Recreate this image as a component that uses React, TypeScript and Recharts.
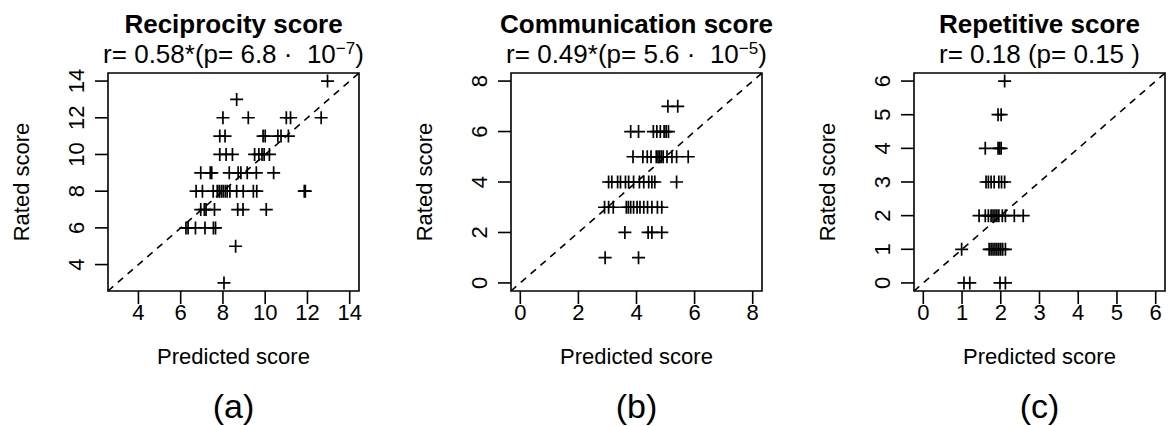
import React from 'react'
import { ScatterChart, Scatter, XAxis, YAxis, ReferenceLine, ReferenceArea } from 'recharts'

const FONT = '"Liberation Sans", Arial, Helvetica, sans-serif'

// (a) Reciprocity score, one row per rated value
const recipPredicted = [
  12.95,
  8.65,
  8.0, 9.2, 11.0, 11.2, 12.65,
  7.85, 8.1, 9.9, 10.0, 10.6, 10.75, 11.1,
  7.85, 8.15, 8.45, 9.5, 9.7, 9.85, 9.95, 10.2,
  6.95, 7.4, 7.47, 8.3, 8.72, 8.85, 9.15, 9.58, 10.4,
  6.73, 7.03, 7.54, 7.73, 7.82, 7.92, 8.01, 8.11, 8.2, 8.33, 8.65, 8.96, 9.44, 9.6, 11.85, 11.9,
  6.95, 7.12, 7.2, 7.6, 8.7, 8.95, 10.05,
  6.25, 6.35, 6.7, 7.15, 7.55, 7.65,
  8.6,
  8.05,
]
const recipRated = [
  14,
  13,
  12, 12, 12, 12, 12,
  11, 11, 11, 11, 11, 11, 11,
  10, 10, 10, 10, 10, 10, 10, 10,
  9, 9, 9, 9, 9, 9, 9, 9, 9,
  8, 8, 8, 8, 8, 8, 8, 8, 8, 8, 8, 8, 8, 8, 8, 8,
  7, 7, 7, 7, 7, 7, 7,
  6, 6, 6, 6, 6, 6,
  5,
  3,
]
const recipTicks = [4, 6, 8, 10, 12, 14]
const recipDomain: [number, number] = [2.56, 14.44]

// (b) Communication score
const commPredicted = [
  5.08, 5.42,
  3.8, 4.07, 4.58, 4.7, 4.82, 4.95, 5.02, 5.1,
  3.88, 4.22, 4.37, 4.5, 4.68, 4.74, 4.8, 4.86, 4.92, 5.05, 5.22, 5.38, 5.78,
  3.04, 3.15, 3.35, 3.45, 3.62, 3.73, 3.9, 4.1, 4.25, 4.42, 4.53, 4.63, 5.38,
  2.9, 3.04, 3.2, 3.65, 3.72, 3.8, 3.9, 4.02, 4.12, 4.25, 4.38, 4.53, 4.72, 4.87,
  3.6, 4.4, 4.53, 4.87,
  2.92, 4.07,
]
const commRated = [
  7, 7,
  6, 6, 6, 6, 6, 6, 6, 6,
  5, 5, 5, 5, 5, 5, 5, 5, 5, 5, 5, 5, 5,
  4, 4, 4, 4, 4, 4, 4, 4, 4, 4, 4, 4, 4,
  3, 3, 3, 3, 3, 3, 3, 3, 3, 3, 3, 3, 3, 3,
  2, 2, 2, 2,
  1, 1,
]
const commTicks = [0, 2, 4, 6, 8]
const commDomain: [number, number] = [-0.32, 8.32]

// (c) Repetitive score
const repPredicted = [
  2.1,
  1.93, 2.01,
  1.6, 1.93, 1.97, 2.01,
  1.62, 1.68, 1.75, 1.83, 1.95, 2.02, 2.1,
  1.44, 1.6, 1.68, 1.75, 1.8, 1.85, 1.9, 1.95, 2.04, 2.12, 2.35, 2.58,
  0.99, 1.7, 1.75, 1.8, 1.85, 1.9, 1.95, 2.0, 2.05, 2.12,
  1.05, 1.2, 1.98, 2.12,
]
const repRated = [
  6,
  5, 5,
  4, 4, 4, 4,
  3, 3, 3, 3, 3, 3, 3,
  2, 2, 2, 2, 2, 2, 2, 2, 2, 2, 2, 2,
  1, 1, 1, 1, 1, 1, 1, 1, 1, 1,
  0, 0, 0, 0,
]
const repTicks = [0, 1, 2, 3, 4, 5, 6]
const repDomain: [number, number] = [-0.24, 6.24]

const toPoints = (xs: number[], ys: number[]) => xs.map((x, i) => ({ x, y: ys[i] }))

const Plus = ({ cx, cy }: any) => (
  <path
    d={`M${cx - 6.5},${cy}H${cx + 6.5}M${cx},${cy - 6.5}V${cy + 6.5}`}
    stroke="#000"
    strokeWidth={1.7}
    fill="none"
  />
)

const YTick = ({ x, y, payload }: any) => (
  <text
    x={x}
    y={y}
    transform={`rotate(-90 ${x} ${y})`}
    textAnchor="middle"
    fontSize={22}
    fontFamily={FONT}
    fill="#000"
  >
    {payload.value}
  </text>
)

interface PanelProps {
  left: number
  predicted: number[]
  rated: number[]
  ticks: number[]
  domain: [number, number]
}

const Panel = ({ left, predicted, rated, ticks, domain }: PanelProps) => {
  const [lo, hi] = domain
  return (
    <div style={{ position: 'absolute', left, top: 0 }}>
      <ScatterChart width={368} height={426} margin={{ top: 73, right: 9, bottom: 0, left: 0 }}>
        <XAxis
          type="number"
          dataKey="x"
          domain={domain}
          ticks={ticks}
          interval={0}
          allowDataOverflow
          axisLine={false}
          tickSize={13}
          tickMargin={0}
          tickLine={{ stroke: '#000', strokeWidth: 1.6 }}
          tick={{ fill: '#000', fontSize: 22, fontFamily: FONT }}
          height={135}
        />
        <YAxis
          type="number"
          dataKey="y"
          domain={domain}
          ticks={ticks}
          interval={0}
          allowDataOverflow
          axisLine={false}
          tickSize={13}
          tickMargin={11}
          tickLine={{ stroke: '#000', strokeWidth: 1.6 }}
          tick={<YTick />}
          width={108}
        />
        <ReferenceArea x1={lo} x2={hi} y1={lo} y2={hi} fill="none" stroke="#000" strokeWidth={1.6} fillOpacity={0} />
        <ReferenceLine
          segment={[{ x: lo, y: lo }, { x: hi, y: hi }]}
          stroke="#000"
          strokeWidth={1.6}
          strokeDasharray="7 6"
        />
        <Scatter data={toPoints(predicted, rated)} shape={<Plus />} isAnimationActive={false} />
      </ScatterChart>
    </div>
  )
}

const titles = ['Reciprocity score', 'Communication score', 'Repetitive score']
const stats = [
  { pre: 'r= 0.58*(p= 6.8 \u00B7  10', sup: '\u22127', post: ')' },
  { pre: 'r= 0.49*(p= 5.6 \u00B7  10', sup: '\u22125', post: ')' },
  { pre: 'r= 0.18 (p= 0.15 )', sup: '', post: '' },
]
const letters = ['(a)', '(b)', '(c)']
const plotLefts = [108, 511, 914]

export default function App() {
  return (
    <div style={{ position: 'absolute', left: 0, top: 0, width: 1175, height: 426, background: '#fff' }}>
      <Panel left={0} predicted={recipPredicted} rated={recipRated} ticks={recipTicks} domain={recipDomain} />
      <Panel left={403} predicted={commPredicted} rated={commRated} ticks={commTicks} domain={commDomain} />
      <Panel left={806} predicted={repPredicted} rated={repRated} ticks={repTicks} domain={repDomain} />
      <svg
        width={1175}
        height={426}
        style={{ position: 'absolute', left: 0, top: 0, pointerEvents: 'none' }}
        fontFamily={FONT}
      >
        {plotLefts.map((l, i) => {
          const c = l + 125.5
          return (
            <g key={i} fill="#000">
              <text x={c} y={33} textAnchor="middle" fontSize={26} fontWeight="bold">
                {titles[i]}
              </text>
              <text x={c} y={63} textAnchor="middle" fontSize={26} style={{ whiteSpace: 'pre' }}>
                <tspan>{stats[i].pre}</tspan>
                {stats[i].sup && (
                  <tspan dy={-9} fontSize={17}>
                    {stats[i].sup}
                  </tspan>
                )}
                {stats[i].post && <tspan dy={stats[i].sup ? 9 : 0}>{stats[i].post}</tspan>}
              </text>
              <text x={c} y={364} textAnchor="middle" fontSize={22}>
                Predicted score
              </text>
              <text
                x={l - 79}
                y={182}
                textAnchor="middle"
                fontSize={22}
                transform={`rotate(-90 ${l - 79} 182)`}
              >
                Rated score
              </text>
              <text x={c} y={418} textAnchor="middle" fontSize={34}>
                {letters[i]}
              </text>
            </g>
          )
        })}
      </svg>
    </div>
  )
}
